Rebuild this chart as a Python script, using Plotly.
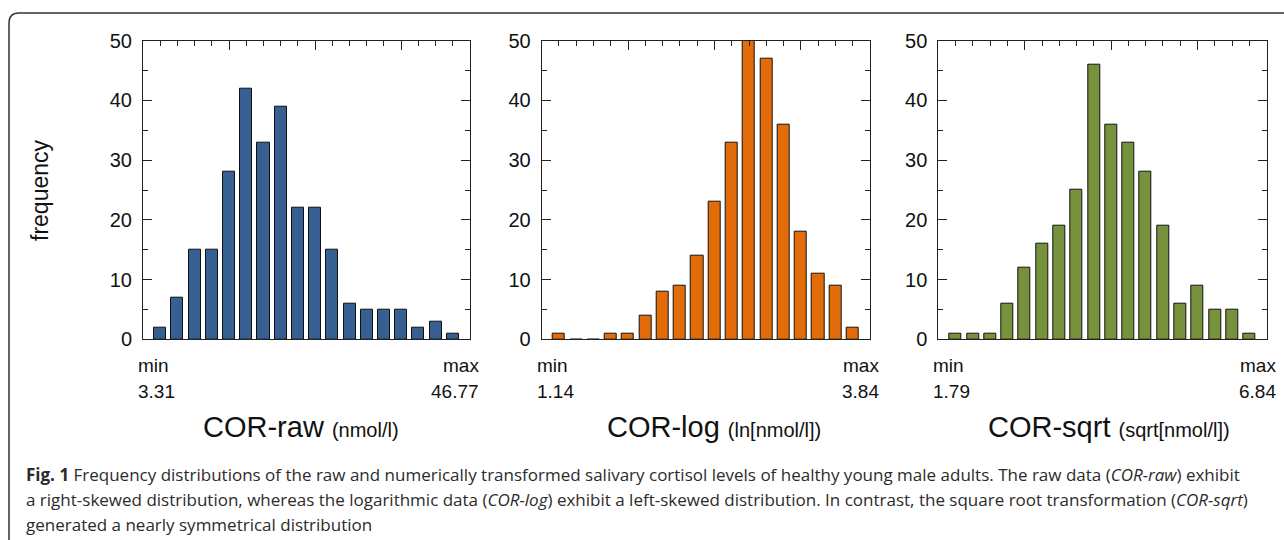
import plotly.graph_objects as go

# ---------------- data ----------------
bins = list(range(1, 19))
cor_raw = [2, 7, 15, 15, 28, 42, 33, 39, 22, 22, 15, 6, 5, 5, 5, 2, 3, 1]
cor_log = [1, 0, 0, 1, 1, 4, 8, 9, 14, 23, 33, 50, 47, 36, 18, 11, 9, 2]
cor_sqrt = [1, 1, 1, 6, 12, 16, 19, 25, 46, 36, 33, 28, 19, 6, 9, 5, 5, 1]
series = [cor_raw, cor_log, cor_sqrt]
names = ["COR-raw", "COR-log", "COR-sqrt"]
units = ["(nmol/l)", "(ln[nmol/l])", "(sqrt[nmol/l])"]
mins = ["3.31", "1.14", "1.79"]
maxs = ["46.77", "3.84", "6.84"]
colors = ["#375f92", "#e36c0a", "#76923c"]
caption_lines = [
    "<b>Fig. 1</b> Frequency distributions of the raw and numerically transformed salivary cortisol levels of healthy young male adults. The raw data (<i>COR-raw</i>) exhibit",
    "a right-skewed distribution, whereas the logarithmic data (<i>COR-log</i>) exhibit a left-skewed distribution. In contrast, the square root transformation (<i>COR-sqrt</i>)",
    "generated a nearly symmetrical distribution",
]

# ---------------- layout geometry (pixels) ----------------
W, H = 1284, 540
px = lambda x: x / W
py = lambda y: 1 - y / H
panels_x = [(143, 470), (541.7, 870), (938.3, 1266.7)]
top_px, bot_px = 40.7, 339.3
title_cx = [301, 714, 1109]

FONT = "Liberation Sans, Arial, Helvetica, sans-serif"
CAPFONT = "Open Sans, Noto Sans, sans-serif"
AXC = "#222222"

fig = go.Figure()
annotations = []
for i, (vals, col) in enumerate(zip(series, colors)):
    xa = "x" if i == 0 else f"x{i+1}"
    ya = "y" if i == 0 else f"y{i+1}"
    fig.add_trace(go.Bar(x=bins, y=vals, width=0.7, marker=dict(color=col, line=dict(color="#111111", width=1)),
                         xaxis=xa, yaxis=ya, showlegend=False))
    x0, x1 = panels_x[i]
    xkey = "xaxis" if i == 0 else f"xaxis{i+1}"
    ykey = "yaxis" if i == 0 else f"yaxis{i+1}"
    fig.layout[xkey] = dict(domain=[px(x0), px(x1)], anchor=ya, range=[0, 19], side="top",
                            showline=True, linecolor=AXC, linewidth=1, mirror=True, automargin=False,
                            ticks="inside", ticklen=9, tickwidth=1, tickcolor=AXC,
                            tickvals=[0, 5, 10, 15], showticklabels=False, showgrid=False, zeroline=False,
                            minor=dict(ticks="inside", ticklen=5, tickwidth=1, tickcolor=AXC, dtick=1, tick0=0, showgrid=False),
                            fixedrange=True)
    fig.layout[ykey] = dict(domain=[py(bot_px), py(top_px)], anchor=xa, range=[0, 50],
                            showline=True, linecolor=AXC, linewidth=1, mirror="allticks", automargin=False,
                            ticks="inside", ticklen=9, tickwidth=1, tickcolor=AXC, dtick=10, tick0=0,
                            minor=dict(ticks="inside", ticklen=5, tickwidth=1, tickcolor=AXC, dtick=5, tick0=0, showgrid=False),
                            showgrid=False, zeroline=False, ticklabelstandoff=6,
                            tickfont=dict(family=FONT, size=20, color="#111111"), fixedrange=True)
    # min / max labels
    annotations += [
        dict(x=px(x0 - 7), y=py(365), text="min", xanchor="left", yanchor="middle"),
        dict(x=px(x0 - 7), y=py(391), text=mins[i], xanchor="left", yanchor="middle"),
        dict(x=px(x1 + 11), y=py(365), text="max", xanchor="right", yanchor="middle"),
        dict(x=px(x1 + 11), y=py(391), text=maxs[i], xanchor="right", yanchor="middle"),
    ]
    annotations.append(dict(x=px(title_cx[i]), y=py(427), xanchor="center", yanchor="middle",
                            text=f"{names[i]} <span style='font-size:20px'>{units[i]}</span>",
                            font=dict(family=FONT, size=29, color="#111111")))

for a in annotations:
    a.setdefault("font", dict(family=FONT, size=19, color="#111111"))
    a.update(xref="paper", yref="paper", showarrow=False)

# y-axis title
annotations.append(dict(x=px(40), y=py(190), xref="paper", yref="paper", showarrow=False, text="frequency",
                        textangle=-90, font=dict(family=FONT, size=23, color="#111111"),
                        xanchor="center", yanchor="middle"))
# caption
for k, line in enumerate(caption_lines):
    annotations.append(dict(x=px(24), y=py(474 + 25 * k), xref="paper", yref="paper", showarrow=False,
                            text=line, xanchor="left", yanchor="middle", align="left",
                            font=dict(family=CAPFONT, size=17, color="#2b2b2b")))

# rounded frame (top-left corner visible)
r = 10
x0b, y0b = 9, 13
path = (f"M {px(x0b)},{py(H + 5)} L {px(x0b)},{py(y0b + r)} "
        f"Q {px(x0b)},{py(y0b)} {px(x0b + r)},{py(y0b)} L {px(W + 5)},{py(y0b)}")
fig.add_shape(type="path", path=path, xref="paper", yref="paper", line=dict(color="#333333", width=1.5))

fig.update_layout(width=W, height=H, margin=dict(l=0, r=0, t=0, b=0, autoexpand=False), autosize=False,
                  paper_bgcolor="white", plot_bgcolor="white", annotations=annotations,
                  bargap=0)
fig.write_html("out.html", config={"displayModeBar": False},
               post_script="document.body.style.margin='0';document.body.style.overflow='hidden';")
